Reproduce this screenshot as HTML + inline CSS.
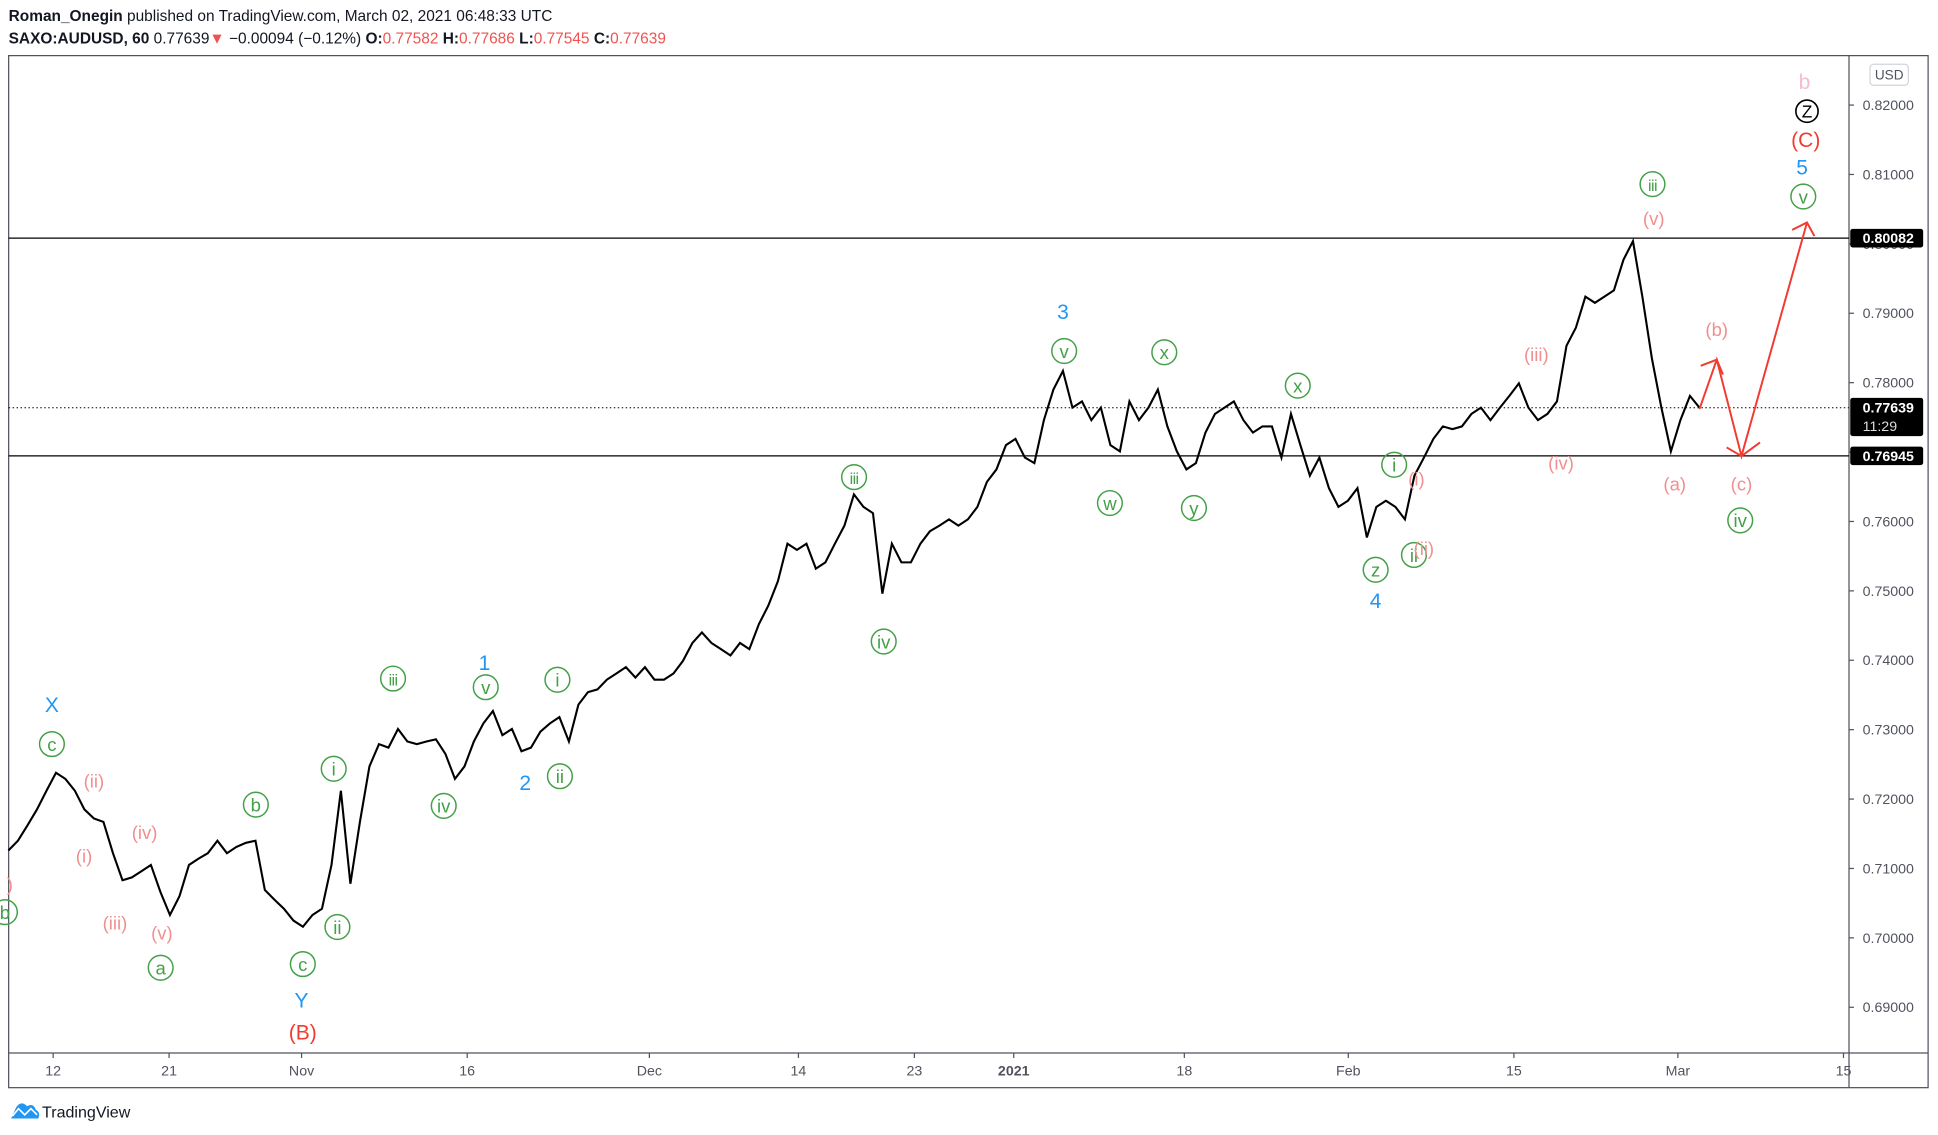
<!DOCTYPE html>
<html><head><meta charset="utf-8"><style>
html,body{margin:0;padding:0;background:#fff;width:1938px;height:1135px;overflow:hidden}
svg{display:block;font-family:"Liberation Sans",sans-serif}
</style></head><body>
<svg id="chart" width="1938" height="1135" viewBox="0 0 1568 918.3" preserveAspectRatio="none">
<g>
<text x="7" y="17" font-size="12.5" fill="#131722"><tspan font-weight="bold">Roman_Onegin</tspan> published on TradingView.com, March 02, 2021 06:48:33 UTC</text>
<text x="7" y="35" font-size="12.5" fill="#131722"><tspan font-weight="bold">SAXO:AUDUSD, 60</tspan> 0.77639<tspan fill="#ef5350">▼</tspan> −0.00094 (−0.12%) <tspan font-weight="bold">O:</tspan><tspan fill="#ef5350">0.77582</tspan> <tspan font-weight="bold">H:</tspan><tspan fill="#ef5350">0.77686</tspan> <tspan font-weight="bold">L:</tspan><tspan fill="#ef5350">0.77545</tspan> <tspan font-weight="bold">C:</tspan><tspan fill="#ef5350">0.77639</tspan></text>
</g>
<rect x="7" y="45" width="1553" height="835" fill="none" stroke="#50535e" stroke-width="1"/>
<line x1="1496" y1="45" x2="1496" y2="880" stroke="#50535e"/>
<line x1="7" y1="852" x2="1560" y2="852" stroke="#50535e"/>
<g id="yaxis"></g>
<g id="xaxis"></g>
<g id="levels"></g>
<g id="series"></g>
<g id="ann"></g>
<g fill="none" stroke="#f23b30" stroke-width="1.6">
<polyline points="1375,331 1389,291 1409,369 1462,180"/>
<polyline points="1376,296 1389,291 1394,303"/>
<polyline points="1397,362 1409,369 1424,358"/>
<polyline points="1450,186 1462,180 1468,191"/>
</g>
<rect x="1513" y="52" width="31" height="17" rx="3" fill="#fff" stroke="#d1d4dc"/>
<text x="1528.5" y="64.5" font-size="11" fill="#50535e" text-anchor="middle">USD</text>
<g>
<path d="M9,905 L13,896 Q17,890 22,895 Q27,892 29,898 Q33,900 31,905 Z" fill="#2196f3"/>
<polyline points="10,903 15,897 20,902 25,897 30,902" fill="none" stroke="#fff" stroke-width="1.3"/>
<text x="34" y="904" font-size="13" fill="#131722">TradingView</text>
</g>
</svg>
<script>
const NS='http://www.w3.org/2000/svg';
// ---- data ----
const priceTicks=[0.82,0.81,0.80,0.79,0.78,0.77,0.76,0.75,0.74,0.73,0.72,0.71,0.70,0.69];
const dayTickLabels=['12','21','Nov','16','Dec','14','23','2021','18','Feb','15','Mar','15'];
const dayTickIndex=[0,7,15,25,36,45,52,58,68.3,78.2,88.2,98.1,108.1];
const seriesStartDay=-2.7;
const seriesEndDay=99.4;
const closes=[0.7126,0.7140,0.7162,0.7185,0.7212,0.7238,0.7229,0.7212,0.7185,0.7172,0.7167,0.7122,0.7083,0.7087,0.7096,0.7105,0.7066,0.7033,0.7060,0.7105,0.7114,0.7122,0.7140,0.7122,0.7131,0.7137,0.7140,0.7069,0.7055,0.7042,0.7025,0.7016,0.7033,0.7042,0.7105,0.7212,0.7078,0.7167,0.7247,0.7279,0.7274,0.7301,0.7283,0.7279,0.7283,0.7286,0.7265,0.7229,0.7247,0.7283,0.7309,0.7327,0.7292,0.7301,0.7269,0.7274,0.7297,0.7309,0.7318,0.7283,0.7336,0.7354,0.7358,0.7372,0.7381,0.7390,0.7375,0.7390,0.7372,0.7372,0.7381,0.7399,0.7425,0.7440,0.7425,0.7416,0.7407,0.7425,0.7416,0.7452,0.7479,0.7514,0.7568,0.7559,0.7568,0.7532,0.7541,0.7568,0.7594,0.7639,0.7621,0.7612,0.7496,0.7568,0.7541,0.7541,0.7568,0.7586,0.7594,0.7603,0.7594,0.7603,0.7621,0.7657,0.7675,0.7710,0.7719,0.7692,0.7684,0.7746,0.7790,0.7817,0.7764,0.7773,0.7746,0.7764,0.7710,0.7701,0.7773,0.7746,0.7764,0.7790,0.7737,0.7701,0.7675,0.7684,0.7728,0.7755,0.7764,0.7773,0.7746,0.7728,0.7737,0.7737,0.7692,0.7755,0.7710,0.7666,0.7692,0.7648,0.7621,0.7630,0.7648,0.7577,0.7621,0.7630,0.7621,0.7603,0.7666,0.7692,0.7719,0.7737,0.7733,0.7737,0.7755,0.7764,0.7746,0.7764,0.7781,0.7799,0.7764,0.7746,0.7755,0.7773,0.7853,0.7879,0.7924,0.7915,0.7924,0.7933,0.7977,0.8004,0.7924,0.7835,0.7764,0.7701,0.7746,0.7781,0.7764];
const levelValues=[0.80082,0.76945];
const lastPrice=0.77639;
// ---- scales ----
function yScale(p){return 85+(0.82-p)*5615;}
function xScale(d){return 43+d*13.4;}
function mk(tag,attrs,parent){const e=document.createElementNS(NS,tag);for(const k in attrs)e.setAttribute(k,attrs[k]);parent.appendChild(e);return e;}
const yax=document.getElementById('yaxis');
priceTicks.forEach(p=>{
  const y=yScale(p);
  const t=mk('line',{x1:1496,x2:1500,y1:y,y2:y,stroke:'#50535e'},yax);
  
  
  const tx=mk('text',{x:1507,y:y+4,'font-size':11.5,fill:'#50535e'},yax);
  
  
  tx.textContent=p.toFixed(5);
});
const xax=document.getElementById('xaxis');
dayTickLabels.forEach((lab,i)=>{
  const x=xScale(dayTickIndex[i]);
  const t=mk('line',{x1:x,x2:x,y1:852,y2:856,stroke:'#50535e'},xax);
  
  
  const tx=mk('text',{x:x,y:870,'font-size':11.5,fill:'#50535e','text-anchor':'middle','font-weight':lab==='2021'?'bold':'normal'},xax);
  
  
  tx.textContent=lab;
});
const lv=document.getElementById('levels');
levelValues.forEach(v=>{
  const y=yScale(v);
  const l=mk('line',{x1:7,x2:1496,y1:y,y2:y,stroke:'#000','stroke-width':1},lv);
  
  
  const r=mk('rect',{x:1497,y:y-7.5,width:59,height:15,rx:2,fill:'#000'},lv);
  
  
  const tx=mk('text',{x:1507,y:y+4,'font-size':11.5,'font-weight':'bold',fill:'#fff'},lv);
  
  
  tx.textContent=v.toFixed(5);
});
{
  const y=yScale(lastPrice);
  const l=mk('line',{x1:7,x2:1496,y1:y,y2:y,stroke:'#000','stroke-width':0.8,'stroke-dasharray':'1.2 2'},lv);
  
  
  const r=mk('rect',{x:1497,y:y-8,width:59,height:31,rx:2,fill:'#000'},lv);
  
  
  const tx=mk('text',{x:1507,y:y+4,'font-size':11.5,'font-weight':'bold',fill:'#fff'},lv);
  
  
  tx.textContent=lastPrice.toFixed(5);
  const t2=mk('text',{x:1507,y:y+19,'font-size':11.5,fill:'#ddd'},lv);
  
  
  t2.textContent='11:29';
}
const ser=document.getElementById('series');
const step=(seriesEndDay-seriesStartDay)/(closes.length-1);
const pts=closes.map((c,i)=>xScale(seriesStartDay+i*step).toFixed(1)+','+yScale(c).toFixed(1)).join(' ');
const pl=mk('polyline',{points:pts,fill:'none',stroke:'#000','stroke-width':1.7,'stroke-linejoin':'miter'},ser);


// ---- wave annotations ----
const G='#43a047',P='#f08f8f',B='#2196f3',R='#f23b30';
const circled=[['c',42,602],['a',130,783],['b',207,651],['c',245,780],['i',270,622],['ii',273,750],['iii',318,549],['iv',359,652],['v',393,556],['i',451,550],['ii',453,628],['iii',691,386],['iv',715,519],['v',861,284],['w',898,407],['x',942,285],['y',966,411],['x',1050,312],['z',1113,461],['i',1128,376],['ii',1144,449],['iii',1337,149],['iv',1408,421],['v',1459,159],['b',4,738]];
const ann=document.getElementById('ann');
circled.forEach(([t,x,y])=>{
  const c=mk('circle',{cx:x,cy:y,r:10,fill:'none',stroke:G,'stroke-width':1.2},ann);
  
  
  const tx=mk('text',{x:x,y:y+5.5,'font-size':t.length>2?13:15,fill:G,'text-anchor':'middle','letter-spacing':t.length>2?'-0.5':'0'},ann);
  
  
  tx.textContent=t;
});
const plain=[['(ii)',76,637,P,15],['(i)',68,698,P,15],['(iv)',117,679,P,15],['(iii)',93,752,P,15],['(v)',131,760,P,15],[')',8,721,P,15],['(i)',1146,393,P,15],['(ii)',1152,449,P,15],['(iii)',1243,292,P,15],['(iv)',1263,380,P,15],['(v)',1338,182,P,15],['(a)',1355,397,P,15],['(b)',1389,272,P,15],['(c)',1409,397,P,15],['b',1460,72,'#f8bbd0',17],
['X',42,576,B,17],['1',392,542,B,17],['2',425,639,B,17],['3',860,258,B,17],['4',1113,492,B,17],['Y',244,815,B,17],['5',1458,141,B,17],['(B)',245,841,R,17],['(C)',1461,119,R,17]];
plain.forEach(([t,x,y,col,fs])=>{
  const tx=mk('text',{x:x,y:y,'font-size':fs,fill:col,'text-anchor':'middle'},ann);
  
  
  tx.textContent=t;
});
{
  const c=mk('circle',{cx:1462,cy:90,r:9,fill:'none',stroke:'#000','stroke-width':1.3},ann);
  
  
  const tx=mk('text',{x:1462,y:95,'font-size':14,fill:'#000','text-anchor':'middle'},ann);
  
  
  tx.textContent='Z';
}
</script>
</body></html>
